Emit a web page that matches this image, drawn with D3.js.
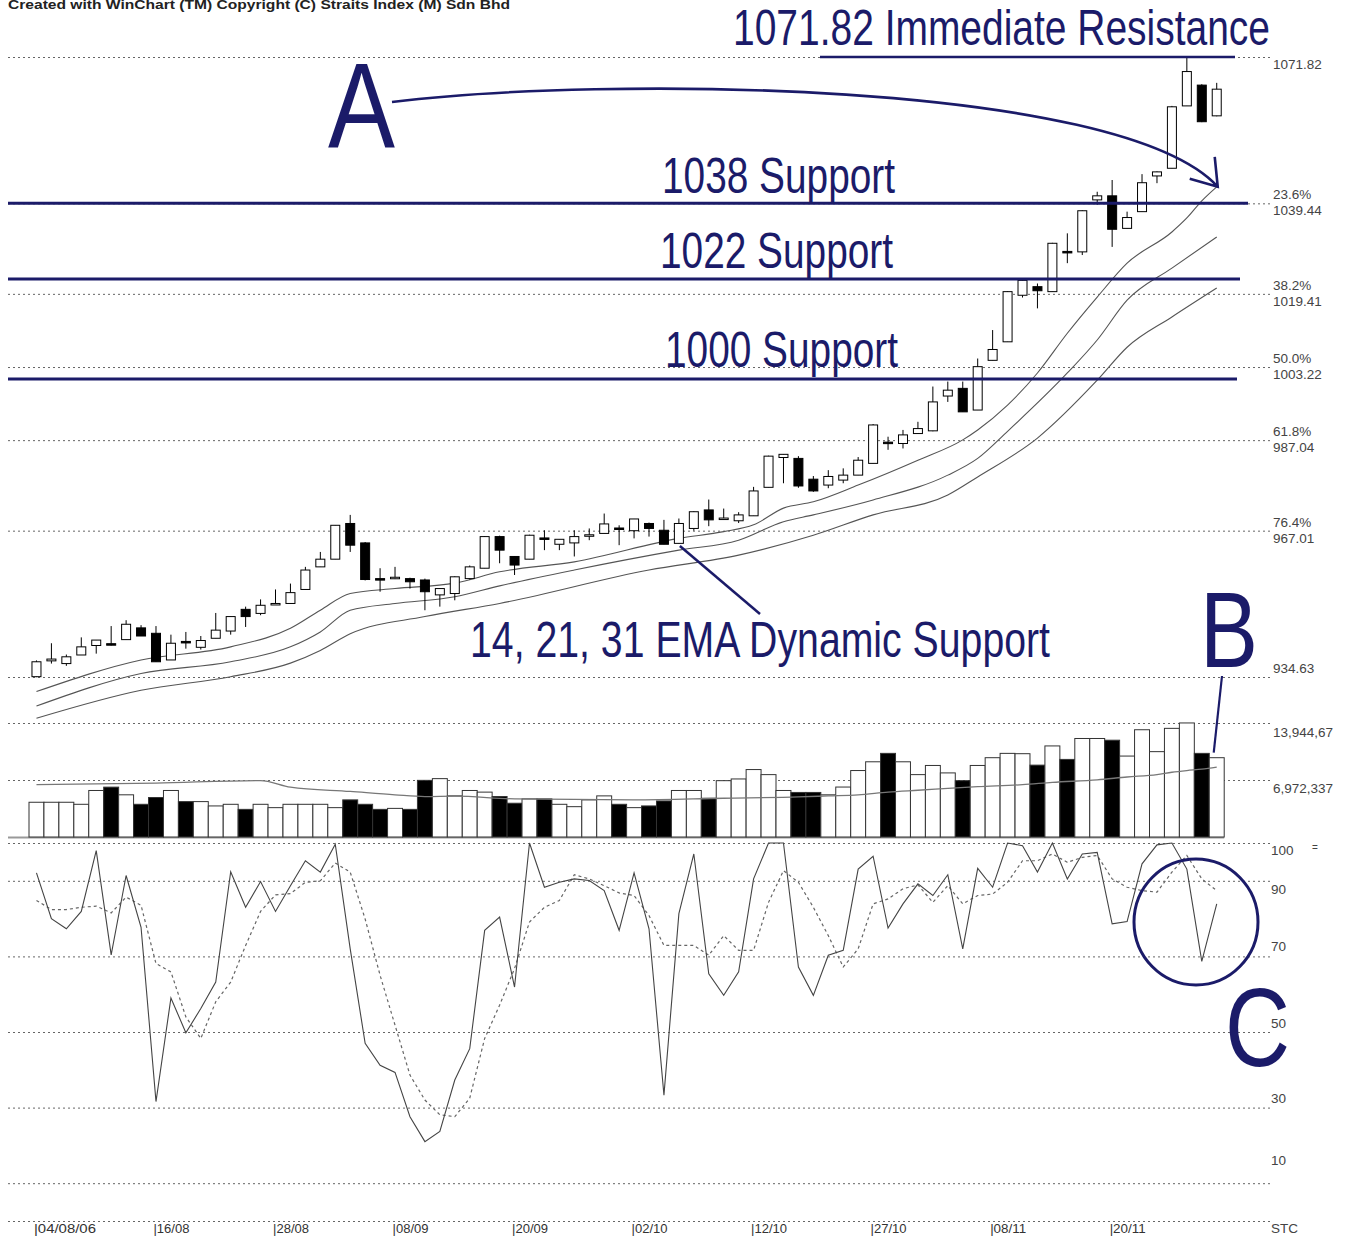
<!DOCTYPE html>
<html>
<head>
<meta charset="utf-8">
<script src="https://cdn.jsdelivr.net/npm/d3@7"></script>
<style>
body { margin: 0; background: #fff; }
text { font-family: "Liberation Sans", Arial, sans-serif; }
</style>
</head>
<body>
<script>
// daily candles, 04/08/06 .. late 11/06
const open  = [934.7,938.2,937.6,939.5,941.6,942.0,942.9,945.5,944.3,938.4, 942.5,941.2,943.2,944.8,949.6,948.7,950.7,950.9,954.0,959.0,
               960.7,968.6,964.3,956.4,956.5,956.4,956.1,952.8,953.1,956.4, 958.7,965.7,961.3,960.7,965.4,964.0,964.3,965.9,966.4,967.6,
               967.0,968.6,967.1,964.2,967.5,971.6,969.6,969.2,970.3,976.6, 983.2,983.0,978.4,977.1,978.2,979.3,981.9,986.6,986.3,988.5,
               989.1,996.8,998.5,993.7,1004.7,1008.8,1019.1,1021.0,1019.9,1028.8, 1028.7,1040.2,1041.1,1033.9,1037.6,1045.5,1047.2,1061.0,1065.6,1058.8];
const high  = [938.3,942.1,939.6,943.4,942.8,945.9,947.2,946.1,945.9,944.0, 944.6,943.7,948.8,948.0,950.2,951.8,954.0,955.3,959.0,962.3,
               968.2,970.5,964.5,958.7,959.0,956.6,956.4,954.3,956.9,959.3, 965.8,965.9,961.4,966.1,967.1,965.1,967.1,967.5,970.8,968.2,
               969.6,968.8,969.4,969.7,971.3,973.9,971.9,971.1,976.7,983.6, 983.9,983.5,979.1,980.4,980.8,983.3,990.6,987.8,989.3,991.1,
               998.9,1000.0,1000.0,1005.1,1011.4,1020.0,1022.5,1021.7,1030.7,1032.8, 1037.9,1042.0,1044.6,1037.6,1045.9,1046.5,1061.0,1071.82,1065.8,1066.1];
const low   = [934.6,937.6,937.1,939.5,939.8,941.6,942.9,943.7,938.0,938.4, 940.9,940.7,943.2,944.0,945.7,948.3,950.7,950.9,954.0,959.0,
               960.7,962.3,956.0,953.5,956.3,954.2,949.4,950.2,951.6,956.2, 958.7,959.8,957.2,960.7,962.7,962.7,961.3,964.9,966.4,963.8,
               965.3,965.7,964.0,964.2,967.0,968.0,969.4,968.7,970.3,976.6, 977.5,976.5,975.6,976.4,977.5,979.3,981.9,984.9,985.2,988.5,
               989.0,995.5,993.3,993.7,1004.7,1008.8,1018.6,1016.2,1019.9,1026.2, 1028.0,1039.1,1029.8,1033.9,1037.6,1043.9,1047.2,1061.0,1057.4,1058.7];
const close = [938.0,938.6,939.1,941.3,942.8,941.7,946.3,943.7,938.0,942.1, 942.2,942.7,945.0,948.0,948.0,950.5,950.9,953.3,958.3,960.7,
               968.2,963.8,956.2,956.1,956.7,955.7,953.5,954.2,956.8,959.0, 965.7,962.7,959.4,966.0,965.2,965.1,965.7,966.1,968.5,967.4,
               969.6,967.5,964.0,968.6,971.2,969.4,969.8,970.5,975.8,983.5, 983.9,976.9,975.8,979.0,979.3,982.6,990.4,986.4,988.2,989.6,
               995.5,998.1,993.3,1003.3,1007.1,1019.9,1022.4,1020.1,1030.6,1028.6, 1037.8,1041.1,1033.7,1036.3,1044.0,1046.4,1060.8,1068.6,1057.5,1064.7];
const volume = [4250000,4250000,4250000,4000000,5690000,6100000,5160000,4000000,4830000,5690000,
                4330000,4330000,3800000,4000000,3380000,4000000,3590000,4000000,4000000,4000000,
                3590000,4540000,4000000,3380000,3500000,3380000,6930000,7140000,5030000,5690000,
                5490000,4950000,4130000,4660000,4660000,4000000,3710000,4540000,5030000,4000000,
                3590000,3800000,4410000,5690000,5690000,4740000,6890000,7100000,8250000,7630000,
                5690000,5450000,5450000,5160000,6110000,8130000,9200000,10230000,9200000,7630000,
                8750000,7840000,6890000,8750000,9700000,10230000,10190000,8790000,11140000,9490000,
                12050000,12050000,11840000,9900000,13120000,10440000,13290000,13950000,10230000,9700000];

// moving averages as [bar, value]
const ema14 = [[0,931.4],[7,938.4],[13,941.3],[17,945.4],[19,949.4],[21,953.1],[24,954.2],[28,955.4],[31,957.9],[36,960.1],
               [43,965.3],[46,966.8],[48,968.3],[50,972.0],[52,973.4],[55,977.1],[59,982.6],[62,987.1],[63,989.3],[65,994.8],
               [67,1001.9],[69,1010.7],[71,1018.7],[73,1026.2],[76,1033.1],[77,1036.2],[78,1040.0],[79,1043.1]];
const ema21 = [[0,928.2],[7,935.4],[13,938.0],[17,941.3],[19,944.6],[21,949.4],[24,950.9],[28,952.4],[31,954.8],[36,958.3],
               [43,962.7],[47,964.9],[50,969.0],[52,970.5],[56,973.8],[61,979.3],[63,983.0],[65,989.0],[69,1001.9],[71,1009.2],
               [73,1018.0],[76,1025.1],[79,1032.0]];
const ema31 = [[0,925.5],[7,931.7],[13,934.7],[17,937.7],[19,940.5],[21,944.2],[26,948.0],[31,950.9],[41,958.3],[47,961.6],
               [52,966.0],[56,970.5],[61,974.9],[63,978.9],[67,987.5],[71,1000.3],[73,1007.6],[76,1014.3],[79,1020.7]];
const volAvg = [[0,6400000],[8,6600000],[15,6900000],[17,6100000],[21,5570000],[24,5160000],[26,4950000],[28,5000000],[32,4660000],
                [40,4540000],[46,4740000],[51,4900000],[53,5030000],[55,5160000],[57,5500000],[59,5720000],[63,6150000],[66,6400000],
                [68,6680000],[71,7000000],[73,7340000],[75,7630000],[76,7920000],[77,8130000],[78,8300000],[79,8540000]];

// stochastic %K and %D
const stochK = [92.1,80.0,77.3,81.9,98.0,70.4,91.4,77.7,31.6,59.0, 49.8,56.2,63.2,92.4,83.0,89.8,81.9,88.7,95.3,92.3,
                99.7,72.0,47.0,41.2,39.3,27.6,21.0,23.7,37.3,45.6, 76.9,80.4,61.9,100,88.3,89.6,90.5,90.1,87.4,76.9,
                92.1,77.3,33.3,81.3,97.1,65.4,59.7,65.9,90.5,100, 100,67.2,59.7,70.3,71.6,93.1,96.5,77.5,83.9,89.2,
                86.1,91.6,72.0,93.3,88.3,100,99.3,92.3,100,90.5, 97.1,97.5,78.6,79.2,94.5,99.5,100,93.1,68.7,83.9];
const stochD = [84.8,82.4,82.4,83.0,83.3,81.5,85.7,83.5,68.1,65.9, 54.0,48.3,58.0,63.2,72.9,81.9,86.3,86.6,89.6,90.0,
                94.7,92.3,79.9,65.0,51.8,38.6,32.0,28.1,27.6,32.5, 48.3,57.1,66.8,79.1,83.0,84.8,91.6,90.5,88.7,86.8,
                86.1,80.8,72.9,72.9,72.9,70.3,75.5,71.6,71.6,84.3, 92.7,89.6,83.0,75.5,67.2,72.0,83.9,85.2,87.9,88.9,
                84.3,88.7,83.9,86.1,86.5,89.6,95.3,95.3,97.1,94.9, 96.2,96.7,90.5,88.3,87.4,87.0,92.3,96.7,90.5,87.4];

const priceLevels = [1071.82, 1039.44, 1019.41, 1003.22, 987.04, 967.01, 934.63];
const fibPct      = ["", "23.6%", "38.2%", "50.0%", "61.8%", "76.4%", ""];
const volTicks    = [13944674, 6972337];
const volTickText = ["13,944,67", "6,972,337"];
const stochTicks  = [100, 90, 70, 50, 30, 10, 0];
const stochText   = ["100", "90", "70", "50", "30", "10", "STC"];
const dateIdx     = [0, 8, 16, 24, 32, 40, 48, 56, 64, 72];
const dateText    = ["04/08/06", "16/08", "28/08", "08/09", "20/09", "02/10", "12/10", "27/10", "08/11", "20/11"];

const supports = [{label: "1038 Support", level: 1039.44, end: 1248, tx: 662, ty: 193},
                  {label: "1022 Support", level: 1022.7, end: 1240, tx: 660, ty: 268},
                  {label: "1000 Support", level: 1000.56, end: 1237, tx: 665, ty: 367}];

const width = 1346, height = 1239;
const navy = "#1b1b69";
const left = 8, right = 1271;

const svg = d3.select("body").append("svg")
  .attr("width", width)
  .attr("height", height);

const x = d3.scaleBand().domain(d3.range(open.length)).range([29, 1224.2]);
const cx = i => x(i) + x.bandwidth() / 2;
const yP = d3.scaleLinear().domain([934.63, 1071.82]).range([677, 57]);
const yV = d3.scaleLinear().domain([0, 13944674]).range([837, 723]);
const yS = d3.scaleLinear().domain([0, 100]).range([1221, 843]);

svg.append("text")
  .attr("x", 8).attr("y", 9)
  .attr("font-size", 12).attr("font-weight", "bold").attr("fill", "#222")
  .attr("font-family", "DejaVu Sans")
  .attr("textLength", 502).attr("lengthAdjust", "spacingAndGlyphs")
  .text("Created with WinChart (TM)  Copyright (C) Straits Index (M) Sdn Bhd");

// dotted grids
const grid = svg.append("g")
  .attr("stroke", "#666").attr("stroke-dasharray", "2,3").attr("stroke-width", 1);
grid.selectAll(".gp").data(priceLevels).join("line")
  .attr("x1", left).attr("x2", right)
  .attr("y1", d => yP(d) + 0.5).attr("y2", d => yP(d) + 0.5);
grid.selectAll(".gv").data(volTicks).join("line")
  .attr("x1", left).attr("x2", right)
  .attr("y1", d => yV(d) + 0.5).attr("y2", d => yV(d) + 0.5);
grid.selectAll(".gs").data(stochTicks).join("line")
  .attr("x1", left).attr("x2", right)
  .attr("y1", d => yS(d) + 0.5).attr("y2", d => yS(d) + 0.5);

// right-hand labels
const lab = svg.append("g").attr("font-size", 13.5).attr("fill", "#444");
lab.selectAll(".pl").data(priceLevels).join("text")
  .attr("x", 1273)
  .attr("y", d => yP(d) + (d === 934.63 ? -4 : 12))
  .text(d => d.toFixed(2));
lab.selectAll(".pp").data(priceLevels.filter((d, i) => fibPct[i])).join("text")
  .attr("x", 1273)
  .attr("y", d => yP(d) - 4)
  .text(d => fibPct[priceLevels.indexOf(d)]);
lab.selectAll(".vl").data(volTicks).join("text")
  .attr("x", 1273)
  .attr("y", (d, i) => yV(d) + (i === 0 ? 14 : 13))
  .text((d, i) => volTickText[i]);
const stochDy = {100: 12, 90: 13, 70: -5, 50: -4, 30: -5, 10: -18, 0: 12};
lab.selectAll(".sl").data(stochTicks).join("text")
  .attr("x", 1271)
  .attr("y", d => yS(d) + stochDy[d])
  .text((d, i) => stochText[i]);
lab.append("text").attr("x", 1312).attr("y", 851).attr("font-size", 10).text("=");

// dates
svg.append("g").attr("font-size", 13.5).attr("fill", "#333")
  .selectAll("text").data(dateIdx).join("text")
  .attr("x", d => cx(d) - 2.5)
  .attr("y", 1233)
  .attr("textLength", (d, i) => i === 0 ? 62 : 36)
  .attr("lengthAdjust", "spacingAndGlyphs")
  .text((d, i) => "|" + dateText[i]);

// EMA lines
const emaLine = d3.line().x(d => cx(d[0])).y(d => yP(d[1])).curve(d3.curveMonotoneX);
svg.append("g").attr("fill", "none").attr("stroke", "#555").attr("stroke-width", 1.1)
  .selectAll("path").data([ema14, ema21, ema31]).join("path")
  .attr("d", emaLine);

// candles
const candles = svg.append("g").selectAll("g").data(d3.range(open.length)).join("g");
candles.append("line")
  .attr("x1", i => cx(i)).attr("x2", i => cx(i))
  .attr("y1", i => yP(high[i])).attr("y2", i => yP(low[i]))
  .attr("stroke", "#000").attr("stroke-width", 1);
candles.append("rect")
  .attr("x", i => cx(i) - 4.5)
  .attr("width", 9)
  .attr("y", i => yP(Math.max(open[i], close[i])))
  .attr("height", i => Math.max(1.5, Math.abs(yP(open[i]) - yP(close[i]))))
  .attr("fill", i => close[i] >= open[i] ? "#fff" : "#000")
  .attr("stroke", "#000").attr("stroke-width", 1);

// volume
svg.append("line")
  .attr("x1", left).attr("x2", x(open.length - 1) + x.step())
  .attr("y1", yV(0) + 0.5).attr("y2", yV(0) + 0.5)
  .attr("stroke", "#999").attr("stroke-width", 2);
svg.append("g").selectAll("rect").data(volume).join("rect")
  .attr("x", (d, i) => x(i))
  .attr("width", x.step())
  .attr("y", d => yV(d))
  .attr("height", d => yV(0) - yV(d))
  .attr("fill", (d, i) => close[i] >= open[i] ? "#fff" : "#000")
  .attr("stroke", "#333").attr("stroke-width", 1);
svg.append("path").datum(volAvg)
  .attr("fill", "none").attr("stroke", "#777").attr("stroke-width", 1.3)
  .attr("d", d3.line().x(d => cx(d[0])).y(d => yV(d[1])).curve(d3.curveMonotoneX));

// stochastic
svg.append("path").datum(stochD)
  .attr("fill", "none").attr("stroke", "#666").attr("stroke-width", 1.2).attr("stroke-dasharray", "3,3")
  .attr("d", d3.line().x((d, i) => cx(i)).y(d => yS(d)));
svg.append("path").datum(stochK)
  .attr("fill", "none").attr("stroke", "#444").attr("stroke-width", 1.1)
  .attr("d", d3.line().x((d, i) => cx(i)).y(d => yS(d)));

// annotations
const ann = svg.append("g").attr("fill", navy);
ann.append("text").attr("x", 733).attr("y", 45).attr("font-size", 50)
  .attr("textLength", 537).attr("lengthAdjust", "spacingAndGlyphs")
  .text("1071.82 Immediate Resistance");
svg.append("line").attr("x1", 820).attr("x2", 1235)
  .attr("y1", yP(1071.82)).attr("y2", yP(1071.82))
  .attr("stroke", navy).attr("stroke-width", 2.5);

ann.append("text").attr("x", 328).attr("y", 147).attr("font-size", 120)
  .attr("textLength", 67).attr("lengthAdjust", "spacingAndGlyphs").text("A");

const tip = [cx(79) + 1, yP(ema14[ema14.length - 1][1])];
svg.append("path")
  .attr("d", `M392,102 C600,76 1120,80 ${tip[0]},${tip[1]} M${tip[0] - 28},${tip[1] - 8} L${tip[0]},${tip[1]} L${tip[0] - 3},${tip[1] - 30}`)
  .attr("fill", "none").attr("stroke", navy).attr("stroke-width", 2.6);

supports.forEach(s => {
  svg.append("line").attr("x1", left).attr("x2", s.end)
    .attr("y1", yP(s.level)).attr("y2", yP(s.level))
    .attr("stroke", navy).attr("stroke-width", 3);
  ann.append("text").attr("x", s.tx).attr("y", s.ty).attr("font-size", 50)
    .attr("textLength", 233).attr("lengthAdjust", "spacingAndGlyphs").text(s.label);
});

ann.append("text").attr("x", 470).attr("y", 657).attr("font-size", 50)
  .attr("textLength", 580).attr("lengthAdjust", "spacingAndGlyphs")
  .text("14, 21, 31 EMA Dynamic Support");
svg.append("line").attr("x1", cx(43) + 1).attr("y1", yP(963.6)).attr("x2", 760).attr("y2", 614)
  .attr("stroke", navy).attr("stroke-width", 2.5);

ann.append("text").attr("x", 1200).attr("y", 667).attr("font-size", 108)
  .attr("textLength", 58).attr("lengthAdjust", "spacingAndGlyphs").text("B");
svg.append("line").attr("x1", 1222).attr("y1", 676).attr("x2", cx(79) - 3).attr("y2", yV(volume[79]) - 5)
  .attr("stroke", navy).attr("stroke-width", 2.2);

ann.append("text").attr("x", 1225).attr("y", 1066).attr("font-size", 112)
  .attr("textLength", 65).attr("lengthAdjust", "spacingAndGlyphs").text("C");
svg.append("ellipse").attr("cx", 1196).attr("cy", 922).attr("rx", 62).attr("ry", 63)
  .attr("fill", "none").attr("stroke", navy).attr("stroke-width", 3);
</script>
</body>
</html>
